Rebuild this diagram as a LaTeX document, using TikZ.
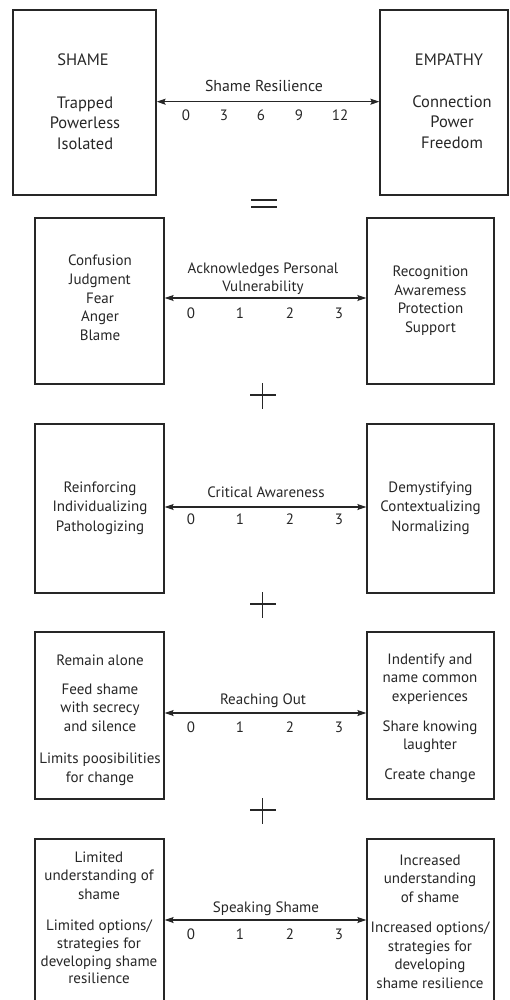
\documentclass[tikz,border=0pt]{standalone}
\usepackage{fontspec}
\setmainfont{PT Sans}
\usetikzlibrary{arrows.meta}
\definecolor{ink}{HTML}{262626}
\begin{document}
\begin{tikzpicture}[x=1pt,y=-1pt,
  box/.style={draw=ink, line width=1.3pt, inner sep=0pt},
  txt/.style={anchor=north, inner sep=0pt, align=center, text=ink,
    font=\fontsize{15}{#1}\selectfont},
  txt/.default=19,
  bigtxt/.style={anchor=north, inner sep=0pt, align=center, text=ink,
    font=\fontsize{16.5}{#1}\selectfont},
  bigtxt/.default=19,
  num/.style={anchor=north, inner sep=0pt, text=ink, font=\fontsize{15}{19}\selectfont},
  dbl/.style={draw=ink, line width=1.1pt, {Stealth[length=9pt,width=6pt,inset=1.5pt]}-{Stealth[length=9pt,width=6pt,inset=1.5pt]}},
  sign/.style={draw=ink, line width=1.9pt}
]
\useasboundingbox (0,0) rectangle (509,1000);

% ---------- Row 1 ----------
\node[box, minimum width=143, minimum height=185] (b1l) at (84.5,102.5) {};
\node[box, minimum width=128, minimum height=185] (b1r) at (444,102.5) {};
\node[bigtxt] (t1la) at (83,52.5) {\strut SHAME};
\node[bigtxt=20.5] (t1lb) at (85,93.5) {\strut Trapped\\Powerless\\Isolated};
\node[bigtxt] (t1ra) at (449,52.5) {\strut EMPATHY};
\node[bigtxt=20.5] (t1rb) at (452,92.5) {\strut Connection\\Power\\Freedom};
\node[txt] (l1) at (264,78.2) {\fontsize{15.8}{19}\selectfont\strut Shame Resilience};
\coordinate (a1) at (0,101.7);
\draw[dbl] (b1l.east |- a1) -- (b1r.west |- a1);
\node[num] (n1a) at (186,107.2) {\strut 0};
\node[num] (n1b) at (224,107.2) {\strut 3};
\node[num] (n1c) at (261,107.2) {\strut 6};
\node[num] (n1d) at (299,107.2) {\strut 9};
\node[num] (n1e) at (340,107.2) {\strut 12};

% equals sign
\draw[sign] (251,200) -- (277,200);
\draw[sign] (251,207) -- (277,207);

% ---------- Row 2 ----------
\node[box, minimum width=129, minimum height=166] (b2l) at (99.5,301) {};
\node[box, minimum width=127, minimum height=166] (b2r) at (430.5,301) {};
\node[txt=18.8] (t2l) at (100,252.2) {\strut Confusion\\Judgment\\Fear\\Anger\\Blame};
\node[txt=18.7] (t2r) at (430.5,263.2) {\strut Recognition\\Awaremess\\Protection\\Support};
\node[txt=18] (l2) at (263,260.2) {\strut Acknowledges Personal\\Vulnerability};
\coordinate (a2) at (0,298);
\draw[dbl] (b2l.east |- a2) -- (b2r.west |- a2);
\node[num] (n2a) at (191,305.2) {\strut 0};
\node[num] (n2b) at (240,305.2) {\strut 1};
\node[num] (n2c) at (290,305.2) {\strut 2};
\node[num] (n2d) at (339,305.2) {\strut 3};

% plus 1
\draw[sign] (250,395) -- (276,395);
\draw[sign] (262.5,383) -- (262.5,409);

% ---------- Row 3 ----------
\node[box, minimum width=129, minimum height=169] (b3l) at (99.5,508.5) {};
\node[box, minimum width=127, minimum height=169] (b3r) at (430.5,508.5) {};
\node[txt=19.5] (t3l) at (100,478.2) {\strut Reinforcing\\Individualizing\\Pathologizing};
\node[txt=19.5] (t3r) at (430.5,478.2) {\strut Demystifying\\Contextualizing\\Normalizing};
\node[txt] (l3) at (266,484.2) {\strut Critical Awareness};
\coordinate (a3) at (0,507);
\draw[dbl] (b3l.east |- a3) -- (b3r.west |- a3);
\node[num] (n3a) at (191,511.2) {\strut 0};
\node[num] (n3b) at (240,511.2) {\strut 1};
\node[num] (n3c) at (290,511.2) {\strut 2};
\node[num] (n3d) at (339,511.2) {\strut 3};

% plus 2
\draw[sign] (250,604) -- (276,604);
\draw[sign] (262.5,592) -- (262.5,618);

% ---------- Row 4 ----------
\node[box, minimum width=129, minimum height=167] (b4l) at (99.5,715.5) {};
\node[box, minimum width=127, minimum height=167] (b4r) at (430.5,715.5) {};
\node[txt] (t4la) at (100,652.2) {\strut Remain alone};
\node[txt=18.5] (t4lb) at (100,681.2) {\strut Feed shame\\with secrecy\\and silence};
\node[txt=19] (t4lc) at (100,750.2) {\strut Limits poosibilities\\for change};
\node[txt=18.5] (t4ra) at (430,651.2) {\strut Indentify and\\name common\\experiences};
\node[txt=18] (t4rb) at (430,718.2) {\strut Share knowing\\laughter};
\node[txt] (t4rc) at (430,766.2) {\strut Create change};
\node[txt] (l4) at (263,691.2) {\strut Reaching Out};
\coordinate (a4) at (0,713);
\draw[dbl] (b4l.east |- a4) -- (b4r.west |- a4);
\node[num] (n4a) at (191,719.2) {\strut 0};
\node[num] (n4b) at (240,719.2) {\strut 1};
\node[num] (n4c) at (290,719.2) {\strut 2};
\node[num] (n4d) at (339,719.2) {\strut 3};

% plus 3
\draw[sign] (250,810) -- (276,810);
\draw[sign] (262.5,798) -- (262.5,824);

% ---------- Row 5 ----------
\node[box, minimum width=129, minimum height=175] (b5l) at (99.5,926.5) {};
\node[box, minimum width=127, minimum height=175] (b5r) at (430.5,926.5) {};
\node[txt=18.5] (t5la) at (99,849.2) {\strut Limited\\understanding of\\shame};
\node[txt=17.7] (t5lb) at (99,918.2) {\strut Limited options/\\strategies for\\developing shame\\resilience};
\node[txt=18.5] (t5ra) at (430,852.2) {\strut Increased\\understanding\\of shame};
\node[txt=18.7] (t5rb) at (430,919.2) {\strut Increased options/\\strategies for\\developing\\shame resilience};
\node[txt] (l5) at (266,899.2) {\strut Speaking Shame};
\coordinate (a5) at (0,920);
\draw[dbl] (b5l.east |- a5) -- (b5r.west |- a5);
\node[num] (n5a) at (191,926.2) {\strut 0};
\node[num] (n5b) at (240,926.2) {\strut 1};
\node[num] (n5c) at (290,926.2) {\strut 2};
\node[num] (n5d) at (339,926.2) {\strut 3};
\end{tikzpicture}
\end{document}
